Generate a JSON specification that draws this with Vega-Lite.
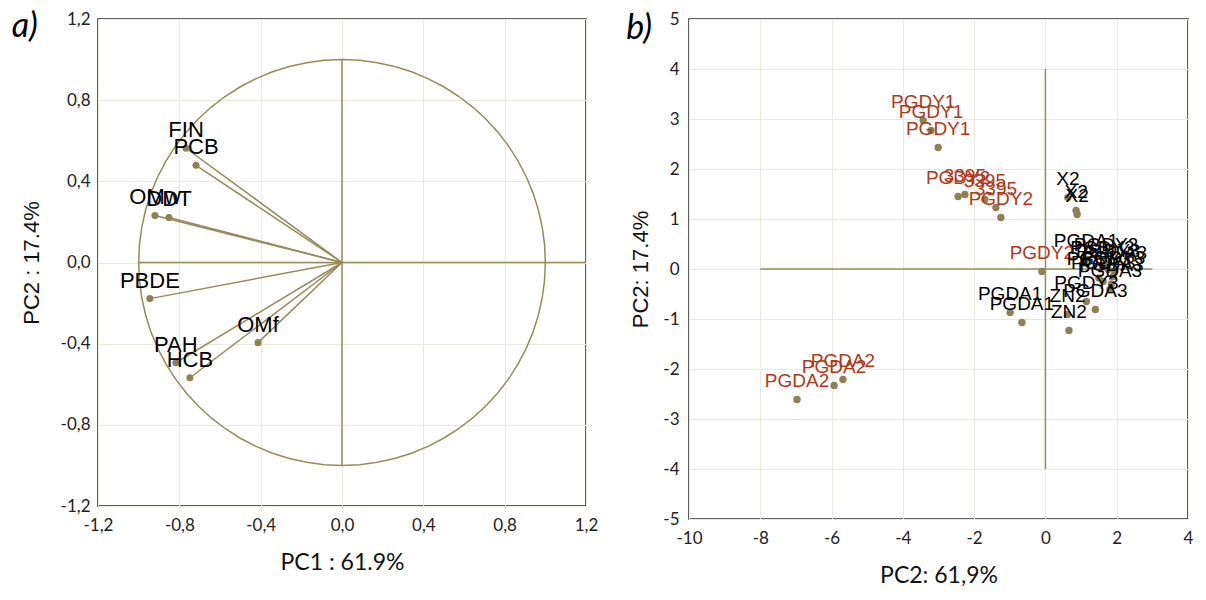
{
  "$schema": "https://vega.github.io/schema/vega-lite/v6.json",
  "padding": {"left": 10, "top": 9, "right": 5, "bottom": 5},
  "background": "white",
  "config": {
    "locale": {"number": {"decimal": ",", "thousands": ".", "grouping": [3], "currency": ["", ""], "minus": "-"}},
    "view": {"stroke": "#2b2b2b", "strokeWidth": 1.5},
    "axis": {"domain": false, "ticks": false, "grid": true, "gridColor": "#ece9df", "gridWidth": 1, "labelFlush": false, "labelFont": "Lato", "labelFontSize": 17, "labelColor": "#222222", "titleFontWeight": "normal", "titleColor": "#111111"},
    "text": {"font": "Liberation Sans"}
  },
  "datasets": {
    "circle": [
      {"a": 0, "x": 1, "y": 0}, {"a": 5, "x": 0.9962, "y": 0.0872}, {"a": 10, "x": 0.9848, "y": 0.1736}, {"a": 15, "x": 0.9659, "y": 0.2588},
      {"a": 20, "x": 0.9397, "y": 0.342}, {"a": 25, "x": 0.9063, "y": 0.4226}, {"a": 30, "x": 0.866, "y": 0.5}, {"a": 35, "x": 0.8192, "y": 0.5736},
      {"a": 40, "x": 0.766, "y": 0.6428}, {"a": 45, "x": 0.7071, "y": 0.7071}, {"a": 50, "x": 0.6428, "y": 0.766}, {"a": 55, "x": 0.5736, "y": 0.8192},
      {"a": 60, "x": 0.5, "y": 0.866}, {"a": 65, "x": 0.4226, "y": 0.9063}, {"a": 70, "x": 0.342, "y": 0.9397}, {"a": 75, "x": 0.2588, "y": 0.9659},
      {"a": 80, "x": 0.1736, "y": 0.9848}, {"a": 85, "x": 0.0872, "y": 0.9962}, {"a": 90, "x": 0, "y": 1}, {"a": 95, "x": -0.0872, "y": 0.9962},
      {"a": 100, "x": -0.1736, "y": 0.9848}, {"a": 105, "x": -0.2588, "y": 0.9659}, {"a": 110, "x": -0.342, "y": 0.9397}, {"a": 115, "x": -0.4226, "y": 0.9063},
      {"a": 120, "x": -0.5, "y": 0.866}, {"a": 125, "x": -0.5736, "y": 0.8192}, {"a": 130, "x": -0.6428, "y": 0.766}, {"a": 135, "x": -0.7071, "y": 0.7071},
      {"a": 140, "x": -0.766, "y": 0.6428}, {"a": 145, "x": -0.8192, "y": 0.5736}, {"a": 150, "x": -0.866, "y": 0.5}, {"a": 155, "x": -0.9063, "y": 0.4226},
      {"a": 160, "x": -0.9397, "y": 0.342}, {"a": 165, "x": -0.9659, "y": 0.2588}, {"a": 170, "x": -0.9848, "y": 0.1736}, {"a": 175, "x": -0.9962, "y": 0.0872},
      {"a": 180, "x": -1, "y": 0}, {"a": 185, "x": -0.9962, "y": -0.0872}, {"a": 190, "x": -0.9848, "y": -0.1736}, {"a": 195, "x": -0.9659, "y": -0.2588},
      {"a": 200, "x": -0.9397, "y": -0.342}, {"a": 205, "x": -0.9063, "y": -0.4226}, {"a": 210, "x": -0.866, "y": -0.5}, {"a": 215, "x": -0.8192, "y": -0.5736},
      {"a": 220, "x": -0.766, "y": -0.6428}, {"a": 225, "x": -0.7071, "y": -0.7071}, {"a": 230, "x": -0.6428, "y": -0.766}, {"a": 235, "x": -0.5736, "y": -0.8192},
      {"a": 240, "x": -0.5, "y": -0.866}, {"a": 245, "x": -0.4226, "y": -0.9063}, {"a": 250, "x": -0.342, "y": -0.9397}, {"a": 255, "x": -0.2588, "y": -0.9659},
      {"a": 260, "x": -0.1736, "y": -0.9848}, {"a": 265, "x": -0.0872, "y": -0.9962}, {"a": 270, "x": 0, "y": -1}, {"a": 275, "x": 0.0872, "y": -0.9962},
      {"a": 280, "x": 0.1736, "y": -0.9848}, {"a": 285, "x": 0.2588, "y": -0.9659}, {"a": 290, "x": 0.342, "y": -0.9397}, {"a": 295, "x": 0.4226, "y": -0.9063},
      {"a": 300, "x": 0.5, "y": -0.866}, {"a": 305, "x": 0.5736, "y": -0.8192}, {"a": 310, "x": 0.6428, "y": -0.766}, {"a": 315, "x": 0.7071, "y": -0.7071},
      {"a": 320, "x": 0.766, "y": -0.6428}, {"a": 325, "x": 0.8192, "y": -0.5736}, {"a": 330, "x": 0.866, "y": -0.5}, {"a": 335, "x": 0.9063, "y": -0.4226},
      {"a": 340, "x": 0.9397, "y": -0.342}, {"a": 345, "x": 0.9659, "y": -0.2588}, {"a": 350, "x": 0.9848, "y": -0.1736}, {"a": 355, "x": 0.9962, "y": -0.0872},
      {"a": 360, "x": 1, "y": 0}
    ],
    "vars": [
      {"label": "FIN", "x": -0.767, "y": 0.563},
      {"label": "PCB", "x": -0.718, "y": 0.479},
      {"label": "OMw", "x": -0.92, "y": 0.232},
      {"label": "DDT", "x": -0.851, "y": 0.222},
      {"label": "PBDE", "x": -0.945, "y": -0.178},
      {"label": "PAH", "x": -0.817, "y": -0.494},
      {"label": "HCB", "x": -0.748, "y": -0.568},
      {"label": "OMf", "x": -0.413, "y": -0.395}
    ],
    "scores": [
      {"label": "PGDY1", "grp": "red", "x": -3.43, "y": 2.97},
      {"label": "PGDY1", "grp": "red", "x": -3.21, "y": 2.77},
      {"label": "PGDY1", "grp": "red", "x": -3.01, "y": 2.43},
      {"label": "PGDY2", "grp": "red", "x": -2.45, "y": 1.45},
      {"label": "3395", "grp": "red", "x": -2.26, "y": 1.49},
      {"label": "3395", "grp": "red", "x": -1.7, "y": 1.39},
      {"label": "3395", "grp": "red", "x": -1.39, "y": 1.23},
      {"label": "PGDY2", "grp": "red", "x": -1.25, "y": 1.03},
      {"label": "PGDY2", "grp": "red", "x": -0.1, "y": -0.05},
      {"label": "PGDA2", "grp": "red", "x": -6.97, "y": -2.61},
      {"label": "PGDA2", "grp": "red", "x": -5.93, "y": -2.33},
      {"label": "PGDA2", "grp": "red", "x": -5.68, "y": -2.21},
      {"label": "X2", "grp": "black", "x": 0.63, "y": 1.43},
      {"label": "X2", "grp": "black", "x": 0.86, "y": 1.17},
      {"label": "X2", "grp": "black", "x": 0.89, "y": 1.09},
      {"label": "PGDA1", "grp": "black", "x": 1.14, "y": 0.19},
      {"label": "PGDY3", "grp": "black", "x": 1.76, "y": -0.01},
      {"label": "PGDY3", "grp": "black", "x": 1.9, "y": -0.15},
      {"label": "PGDY3", "grp": "black", "x": 1.6, "y": 0.05},
      {"label": "PGDY3", "grp": "black", "x": 1.7, "y": 0.1},
      {"label": "PGDA3", "grp": "black", "x": 1.95, "y": -0.05},
      {"label": "PGDA3", "grp": "black", "x": 1.62, "y": -0.25},
      {"label": "PGDA3", "grp": "black", "x": 1.81, "y": -0.41},
      {"label": "PGDY3", "grp": "black", "x": 1.5, "y": -0.18},
      {"label": "PGDA3", "grp": "black", "x": 1.85, "y": -0.3},
      {"label": "PGDY3", "grp": "black", "x": 1.15, "y": -0.65},
      {"label": "PGDA3", "grp": "black", "x": 1.4, "y": -0.81},
      {"label": "ZN2", "grp": "black", "x": 0.62, "y": -0.91},
      {"label": "ZN2", "grp": "black", "x": 0.66, "y": -1.23},
      {"label": "PGDA1", "grp": "black", "x": -0.99, "y": -0.87},
      {"label": "PGDA1", "grp": "black", "x": -0.66, "y": -1.07}
    ]
  },
  "spacing": 26,
  "hconcat": [
    {
      "width": 488,
      "height": 487,
      "layer": [
        {
          "data": {"name": "circle"},
          "mark": {"type": "line", "color": "#968b5d", "strokeWidth": 1.5},
          "encoding": {
            "x": {"field": "x", "type": "quantitative", "scale": {"domain": [-1.2, 1.2], "nice": false, "zero": false},
                  "axis": {"values": [-1.2, -0.8, -0.4, 0, 0.4, 0.8, 1.2], "format": ".1f", "title": "PC1 : 61.9%", "titleFont": "Lato", "titleFontSize": 23, "titlePadding": 18, "labelPadding": 11}},
            "y": {"field": "y", "type": "quantitative", "scale": {"domain": [-1.2, 1.2], "nice": false, "zero": false},
                  "axis": {"values": [-1.2, -0.8, -0.4, 0, 0.4, 0.8, 1.2], "format": ".1f", "title": "PC2 : 17.4%", "titleFont": "Liberation Sans", "titleFontSize": 22, "titlePadding": 17, "labelPadding": 8}},
            "order": {"field": "a", "type": "quantitative"}
          }
        },
        {
          "data": {"values": [{}]},
          "mark": {"type": "rule", "color": "#968b5d", "strokeWidth": 1.5},
          "encoding": {"x": {"datum": -1}, "x2": {"datum": 1.2}, "y": {"datum": 0}}
        },
        {
          "data": {"values": [{}]},
          "mark": {"type": "rule", "color": "#968b5d", "strokeWidth": 1.5},
          "encoding": {"x": {"datum": 0}, "y": {"datum": -1}, "y2": {"datum": 1}}
        },
        {
          "data": {"name": "vars"},
          "mark": {"type": "rule", "color": "#968b5d", "strokeWidth": 1.5},
          "encoding": {"x": {"field": "x", "type": "quantitative"}, "y": {"field": "y", "type": "quantitative"}, "x2": {"datum": 0}, "y2": {"datum": 0}}
        },
        {
          "data": {"name": "vars"},
          "mark": {"type": "point", "filled": true, "color": "#8c8253", "opacity": 1, "size": 50},
          "encoding": {"x": {"field": "x", "type": "quantitative"}, "y": {"field": "y", "type": "quantitative"}}
        },
        {
          "data": {"name": "vars"},
          "mark": {"type": "text", "fontSize": 22, "color": "#000000", "dy": -11, "baseline": "alphabetic", "align": "center"},
          "encoding": {"x": {"field": "x", "type": "quantitative"}, "y": {"field": "y", "type": "quantitative"}, "text": {"field": "label"}}
        },
        {
          "data": {"values": [{"t": "a)"}]},
          "mark": {"type": "text", "font": "Lato", "fontStyle": "italic", "fontSize": 34, "color": "#000000", "baseline": "middle", "align": "center"},
          "encoding": {"x": {"datum": -1.56}, "y": {"datum": 1.16}, "text": {"field": "t"}}
        }
      ]
    },
    {
      "width": 499,
      "height": 500,
      "layer": [
        {
          "data": {"values": [{}]},
          "mark": {"type": "rule", "color": "#968b5d", "strokeWidth": 1.5},
          "encoding": {
            "x": {"datum": -8, "type": "quantitative", "scale": {"domain": [-10, 4], "nice": false, "zero": false},
                  "axis": {"values": [-10, -8, -6, -4, -2, 0, 2, 4], "format": "d", "title": "PC2: 61,9%", "titleFont": "Lato", "titleFontSize": 23, "titlePadding": 18, "labelPadding": 11}},
            "x2": {"datum": 3},
            "y": {"datum": 0, "type": "quantitative", "scale": {"domain": [-5, 5], "nice": false, "zero": false},
                  "axis": {"values": [-5, -4, -3, -2, -1, 0, 1, 2, 3, 4, 5], "format": "d", "title": "PC2: 17.4%", "titleFont": "Liberation Sans", "titleFontSize": 22, "titlePadding": 10, "labelPadding": 10}}
          }
        },
        {
          "data": {"values": [{}]},
          "mark": {"type": "rule", "color": "#968b5d", "strokeWidth": 1.5},
          "encoding": {"x": {"datum": 0}, "y": {"datum": -4}, "y2": {"datum": 4}}
        },
        {
          "data": {"name": "scores"},
          "mark": {"type": "point", "filled": true, "color": "#8c8253", "opacity": 1, "size": 55},
          "encoding": {"x": {"field": "x", "type": "quantitative"}, "y": {"field": "y", "type": "quantitative"}}
        },
        {
          "data": {"name": "scores"},
          "mark": {"type": "text", "fontSize": 19, "dy": -13, "baseline": "alphabetic", "align": "center"},
          "encoding": {
            "x": {"field": "x", "type": "quantitative"},
            "y": {"field": "y", "type": "quantitative"},
            "text": {"field": "label"},
            "color": {"field": "grp", "type": "nominal", "scale": {"domain": ["red", "black"], "range": ["#b0391b", "#000000"]}, "legend": null}
          }
        },
        {
          "data": {"values": [{"t": "b)"}]},
          "mark": {"type": "text", "font": "Lato", "fontStyle": "italic", "fontSize": 34, "color": "#000000", "baseline": "middle", "align": "center"},
          "encoding": {"x": {"datum": -11.4}, "y": {"datum": 4.81}, "text": {"field": "t"}}
        }
      ]
    }
  ]
}
